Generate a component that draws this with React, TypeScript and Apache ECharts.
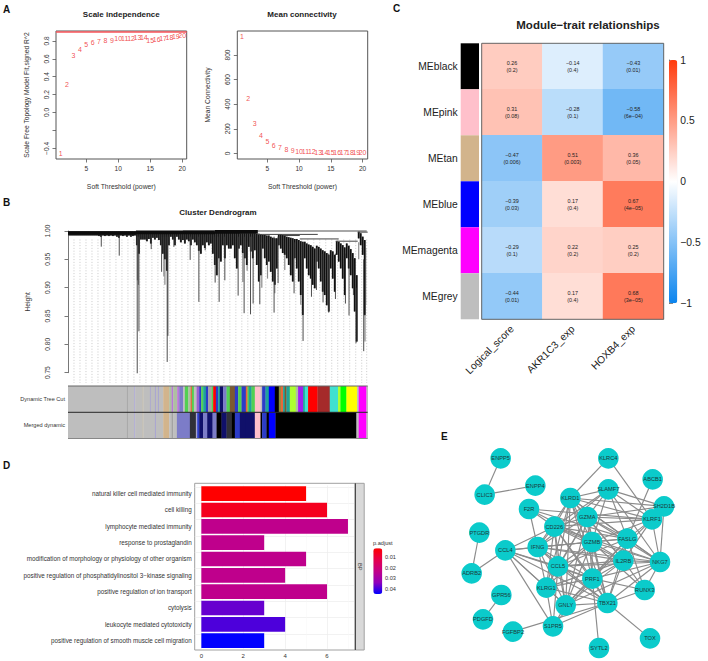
import React, { useEffect, useRef } from "react";
import * as echarts from "echarts";

const FONT = "Liberation Sans";
const INK = "#333333";

// ---------- A: soft threshold ----------
const powers = [1,2,3,4,5,6,7,8,9,10,11,12,13,14,15,16,17,18,19,20];
const scaleFit = [-0.453,0.31,0.636,0.70,0.755,0.78,0.79,0.80,0.805,0.83,0.83,0.83,0.835,0.84,0.81,0.82,0.825,0.835,0.85,0.86];
const meanConn = [953,443,243,146,95,62,46,30,22,16,13,11,8,6,5,5,4,4,3,3];
const fitCut = 0.9;

// ---------- B: dendrogram ----------
const guideSteps = [6,12,18,24,30,36,42,48,54,60,66,72,78,84,90,96,102,108,114,120,126,132,138,144,150,156,162,168,174,180,186,192,198,204,210,216,222,228,234,240,246,252,258,264,270,276,282,288,294,299];
const massRows = [
[1,.9995,.992],[3,.9995,.992],[5,.9995,.992],[7,.9995,.992],[9,.9995,.992],[11,.9995,.992],[13,.9995,.992],[15,.9995,.992],[17,.9995,.992],[19,.9995,.992],[21,.9995,.992],[23,.9995,.992],[25,.9995,.992],[27,.9995,.992],[29,.9995,.992],[31,.9995,.991],[33,.9995,.99],[35,.9995,.992],[37,.9995,.991],[39,.9995,.992],[41,.9995,.991],[43,.9995,.992],[45,.9995,.991],[47,.9995,.992],[49,.9995,.99],[51,.9995,.988],[53,.9995,.992],[55,.9995,.991],[57,.9995,.992],[59,.9995,.99],[61,.9995,.992],[63,.9995,.99],[65,.9995,.991],[67,.9995,.992],
[69,.999,.975],[71,.999,.96],[73,.999,.985],[75,.999,.985],[77,.999,.985],[79,.999,.982],[81,.999,.986],[83,.999,.978],[85,.999,.988],[87,.999,.985],[89,.999,.988],[91,.999,.984],[93,.999,.975],[95,.999,.96],[97,.999,.95],[99,.999,.93],[101,.999,.975],[103,.999,.99],[105,.999,.985],[107,.999,.975],[109,.999,.99],[111,.999,.985],[113,.999,.98],[115,.999,.984],[117,.999,.978],[119,.999,.985],[121,.999,.982],[123,.999,.975],[125,.999,.985],[127,.999,.98],[129,.999,.975],[131,.999,.965],[133,.999,.96],[135,.999,.975],[137,.999,.97],[139,.999,.98],[141,.999,.975],[143,.999,.978],[145,.999,.96],
[147,.999,.94],[149,.999,.922],[151,.999,.952],[153,.999,.946],[155,.998,.975],[157,.998,.952],[159,.998,.975],[161,.998,.969],[163,.998,.969],[165,.998,.975],[167,.9965,.952],[169,.9965,.934],[171,.9965,.969],[173,.996,.975],[175,.996,.961],[177,.996,.952],[179,.996,.94],[181,.996,.972],[183,.996,.964],[185,.996,.952],[187,.996,.966],[189,.995,.94],[191,.995,.911],[193,.994,.922],[195,.993,.969],[197,.993,.952],[199,.992,.94],[201,.992,.946],[203,.99,.928],[205,.988,.911],[207,.987,.905],[209,.987,.934],[211,.994,.975],[213,.994,.969],[215,.993,.961],[217,.993,.958],[219,.99,.952],[221,.989,.94],[223,.988,.922],[225,.987,.911],[227,.986,.952],[229,.986,.934],[231,.984,.911],[233,.982,.887],[235,.981,.852],[237,.981,.952],[239,.978,.934],[241,.976,.922],[243,.975,.916],[245,.972,.905],[247,.969,.899],[249,.974,.946],[251,.972,.934],[253,.969,.911],[255,.966,.893],[257,.964,.887],[259,.961,.869],[261,.958,.858],[263,.966,.934],[265,.964,.916],[267,.958,.893],[269,.982,.958],[271,.981,.946],[273,.978,.934],[275,.975,.916],[277,.971,.887],[279,.978,.952],[281,.974,.934],[283,.968,.922],[285,.961,.899],[287,.952,.858],[289,.922,.805],[291,.999,.987],[293,.996,.975],[295,.99,.958],[297,.984,.852],
];
const darkSpikes = [
[33.3,.992,.9724],[51.3,.992,.9565],[69.3,.99,.749],[71,.99,.823],[83.3,.99,.968],[93.7,.99,.928],[99.3,.99,.769],[100,.99,.815],[106,.99,.972],[122.3,.99,.949],[131,.99,.875],[137.3,.99,.966],[147.3,.99,.909],[151.3,.99,.875],[157,.99,.913],[170.3,.99,.886],[176.3,.99,.855],[182.7,.99,.853],[185.3,.99,.872],[192,.99,.871],[206.3,.99,.856],[210.3,.99,.908],[226.3,.98,.89],[235.3,.98,.806],[243.7,.97,.884],[248.7,.97,.896],[255.3,.96,.874],[261,.96,.856],[267.7,.96,.88],[277.7,.96,.872],[281.3,.95,.851],[285.7,.95,.887],[288.3,.9,.802],[296,.95,.788],
];
const greySpikes = [
[69.5,.99,.913],[70.5,.99,.905],[97,.99,.905],[96,.99,.92],[149.7,.99,.922],[199.7,.98,.916],[217,.98,.931],[297.3,.95,.805],[298,.97,.87],[297,.96,.85],[179.3,.98,.93],[194,.98,.9],[175,.97,.91],[207,.96,.89],[233,.97,.87],[291,.98,.95],
];
const branchRows = [
[115,299,1.0,"grey"],[190,250,.994,"dark"],[232,271,.986,"dark"],[268,290,.982,"dark"],[215,232,.992,"dark"],[290,300,.998,"dark"],[0,68,.9965,"band"],[68,147,.9975,"band"],[147,190,.9985,"band"],
];
type Seg = [number, number, string];
const dynamicCut: Seg[] = [
[0,59,"grey"],[59,59.8,"dimgrey"],[59.8,66.3,"grey"],[66.3,67.2,"lilac"],[67.2,74.7,"grey"],[74.7,75.5,"sand"],[75.5,82,"grey"],[82,82.8,"lilac"],[82.8,87,"grey"],[87,88,"lilac"],[88,90,"grey"],[90,91,"lilac"],[91,95.3,"grey"],
[95.3,101.3,"tan"],[101.3,103.7,"sage"],[103.7,105.3,"orchid"],[105.3,109.3,"sage"],[109.3,111.3,"orchid"],[111.3,115.3,"slate"],[115.3,117,"grey"],[117,120.3,"lime"],[120.3,122.7,"sage"],[122.7,124,"orange"],[124,126,"lime"],[126,128.7,"grey"],[128.7,131.3,"violet"],[131.3,133.3,"royal"],[133.3,135.3,"lime"],[135.3,138,"teal"],[138,140.3,"royal"],[140.3,143.7,"dimgrey"],[143.7,145.3,"lime"],[145.3,148,"red"],[148,150.3,"royal"],[150.3,152,"teal"],[152,155.3,"navy"],[155.3,158.7,"slate"],[158.7,162,"lime"],[162,167,"sienna"],[167,170.3,"royal"],[170.3,173.7,"lime"],[173.7,178,"royal"],
[178,179.7,"orange"],[179.7,181,"lime"],[181,183.7,"teal"],[183.7,187,"lime"],[187,192.7,"pink"],[192.7,194.3,"grey"],[194.3,197.7,"royal"],[197.7,201,"teal"],[201,207,"blue"],[207,211,"black"],[211,213,"olive"],[213,215.3,"orange"],[215.3,217,"teal"],[217,218.7,"sienna"],[218.7,222,"teal"],[222,228,"yellowgreen"],[228,230.3,"sage"],[230.3,235.3,"purple"],[235.3,237,"teal"],[237,240.3,"turquoise"],[240.3,249.7,"red"],[249.7,262,"brown"],[262,270.3,"turquoise"],[270.3,272.7,"yellowgreen"],[272.7,278.7,"green"],[278.7,289.3,"yellow"],[289.3,291,"grey"],[291,298.7,"magenta"],[298.7,300,"grey"],
];
const mergedDynamic: Seg[] = [
[0,59,"grey"],[59,59.8,"dimgrey"],[59.8,66.3,"grey"],[66.3,67.2,"lilac"],[67.2,74.7,"grey"],[74.7,75.5,"sand"],[75.5,87,"grey"],[87,88,"lilac"],[88,95.3,"grey"],
[95.3,101.3,"tan"],[101.3,103.7,"grey"],[103.7,105.3,"dimgrey"],[105.3,109,"grey"],[109,122,"slate"],[122,128,"charcoal"],[128,129.3,"lilac"],[129.3,131.3,"royal"],[131.3,135.3,"navy"],[135.3,139.3,"slate"],[139.3,144.7,"navy"],[144.7,148.7,"slate"],[148.7,153.7,"black"],[153.7,158.7,"navy"],[158.7,163.7,"charcoal"],[163.7,167,"black"],[167,172,"royal"],[172,178,"navy"],
[178,187,"navy"],[187,192.7,"pink"],[192.7,194.3,"black"],[194.3,198.7,"royal"],[198.7,201,"black"],[201,207.7,"blue"],[207.7,288.7,"black"],[288.7,291,"grey"],[291,298.7,"magenta"],[298.7,300,"grey"],
];
const modulePalette: Record<string, string> = {
  grey:"#bebebe", dimgrey:"#a3a3a3", lilac:"#a9a5d2", sand:"#c6bda5", tan:"#d2b48c", sage:"#aebfa0", orchid:"#b878d8", slate:"#7c7cc8", lime:"#52d052", orange:"#e8683a", violet:"#9a60d0", royal:"#2c3cc8", teal:"#1fa39a", red:"#ff0000", navy:"#10106a", sienna:"#7d5a30", pink:"#ffc0cb", blue:"#0000ff", black:"#000000", olive:"#8c8c3c", yellowgreen:"#adff2f", purple:"#a020f0", turquoise:"#40e0d0", brown:"#a52a2a", green:"#00ff00", yellow:"#ffff00", magenta:"#ff00ff", charcoal:"#303038",
};
const stripRows = ["Dynamic Tree Cut", "Merged dynamic"];

// ---------- C: module-trait ----------
const moduleNames = ["MEblack","MEpink","MEtan","MEblue","MEmagenta","MEgrey"];
const moduleSwatches = ["#000000","#ffc0cb","#d2b48c","#0000ff","#ff00ff","#bebebe"];
const traits = ["Logical_score","AKR1C3_exp","HOXB4_exp"];
const corrLogical = [0.26,0.31,-0.47,-0.39,-0.29,-0.44];
const corrAkr = [-0.14,-0.28,0.51,0.17,0.22,0.17];
const corrHoxb = [-0.43,-0.58,0.36,0.67,0.25,0.68];
const pLogical = ["0.2","0.08","0.006","0.03","0.1","0.01"];
const pAkr = ["0.4","0.1","0.003","0.4","0.2","0.4"];
const pHoxb = ["0.01","6e\u221204","0.05","4e\u221205","0.2","3e\u221205"];

// ---------- D: enrichment ----------
const goTerms = ["natural killer cell mediated immunity","cell killing","lymphocyte mediated immunity","response to prostaglandin","modification of morphology or physiology of other organism","positive regulation of phosphatidylinositol 3\u2212kinase signaling","positive regulation of ion transport","cytolysis","leukocyte mediated cytotoxicity","positive regulation of smooth muscle cell migration"];
const goCounts = [5,6,7,3,5,4,6,3,4,3];
const goPadj = [0.0018,0.006,0.024,0.024,0.024,0.024,0.024,0.037,0.039,0.0447];
const padjTicks = ["0.01","0.02","0.03","0.04"];

// ---------- E: network ----------
const geneNames = ["ENPP5","KLRC4","ABCB1","CLIC3","ENPP4","SLAMF7","KLRD1","SH2D1B","F2R","GZMA","KLRF1","CD226","PTGDR","FASLG","GZMB","IFNG","CCL4","IL2RB","NKG7","CCL5","ADRB2","PRF1","KLRG1","RUNX3","GPR56","GNLY","TBX21","PDGFD","S1PR5","FGFBP2","TOX","SYTL2"];
const geneX = [182,505,638,134,286,505,391,672,267,442,636,343,118,562,456,293,196,550,660,354,95,457,319,614,184,377,502,129,339,219,630,477];
const geneY = [115,115,178,224,197,208,234,259,267,291,298,320,338,356,366,381,391,422,426,439,460,476,503,510,525,556,549,598,619,635,655,684];
const geneEdges: [string,string][] = [
["ENPP5","CLIC3"],["CLIC3","ENPP4"],["PTGDR","ADRB2"],["ADRB2","CCL4"],["GPR56","PDGFD"],["KLRC4","KLRD1"],["KLRC4","KLRF1"],["ABCB1","FASLG"],["TBX21","TOX"],["TBX21","FGFBP2"],["PRF1","SYTL2"],
["CCL4","IFNG"],["CCL4","CD226"],["CCL4","KLRG1"],["CCL4","S1PR5"],["CCL4","CCL5"],["CCL4","GZMB"],["CCL4","PRF1"],["CCL4","GNLY"],["CCL4","TBX21"],
["F2R","CD226"],["F2R","IFNG"],["F2R","KLRF1"],["F2R","GZMB"],["F2R","FASLG"],
["SH2D1B","SLAMF7"],["SH2D1B","KLRD1"],["SH2D1B","KLRF1"],["SH2D1B","GZMA"],["SH2D1B","NKG7"],
["KLRF1","SLAMF7"],["KLRF1","KLRD1"],["KLRF1","GZMA"],["KLRF1","CD226"],["KLRF1","FASLG"],["KLRF1","GZMB"],["KLRF1","NKG7"],["KLRF1","PRF1"],["KLRF1","IL2RB"],
["SLAMF7","KLRD1"],["SLAMF7","GZMA"],["SLAMF7","CD226"],["SLAMF7","FASLG"],["SLAMF7","GZMB"],["SLAMF7","NKG7"],["SLAMF7","IFNG"],
["KLRD1","GZMA"],["KLRD1","CD226"],["KLRD1","GZMB"],["KLRD1","IFNG"],["KLRD1","CCL5"],["KLRD1","PRF1"],["KLRD1","FASLG"],["KLRD1","NKG7"],["KLRD1","IL2RB"],["KLRD1","TBX21"],["KLRD1","GNLY"],["KLRD1","KLRG1"],
["GZMA","CD226"],["GZMA","GZMB"],["GZMA","FASLG"],["GZMA","IFNG"],["GZMA","CCL5"],["GZMA","IL2RB"],["GZMA","NKG7"],["GZMA","PRF1"],["GZMA","TBX21"],["GZMA","GNLY"],["GZMA","KLRG1"],
["CD226","GZMB"],["CD226","IFNG"],["CD226","CCL5"],["CD226","FASLG"],["CD226","IL2RB"],["CD226","NKG7"],["CD226","PRF1"],["CD226","TBX21"],["CD226","GNLY"],["CD226","KLRG1"],
["GZMB","FASLG"],["GZMB","IFNG"],["GZMB","CCL5"],["GZMB","IL2RB"],["GZMB","NKG7"],["GZMB","PRF1"],["GZMB","TBX21"],["GZMB","GNLY"],["GZMB","RUNX3"],["GZMB","KLRG1"],
["FASLG","IFNG"],["FASLG","IL2RB"],["FASLG","NKG7"],["FASLG","PRF1"],["FASLG","TBX21"],["FASLG","RUNX3"],["FASLG","CCL5"],["FASLG","GNLY"],
["IFNG","CCL5"],["IFNG","IL2RB"],["IFNG","NKG7"],["IFNG","PRF1"],["IFNG","KLRG1"],["IFNG","TBX21"],["IFNG","GNLY"],
["IL2RB","NKG7"],["IL2RB","CCL5"],["IL2RB","PRF1"],["IL2RB","TBX21"],["IL2RB","RUNX3"],["IL2RB","GNLY"],["IL2RB","KLRG1"],
["NKG7","CCL5"],["NKG7","PRF1"],["NKG7","TBX21"],["NKG7","RUNX3"],["NKG7","GNLY"],
["CCL5","PRF1"],["CCL5","KLRG1"],["CCL5","GNLY"],["CCL5","TBX21"],["CCL5","S1PR5"],
["PRF1","KLRG1"],["PRF1","GNLY"],["PRF1","TBX21"],["PRF1","RUNX3"],["PRF1","S1PR5"],
["KLRG1","GNLY"],["KLRG1","S1PR5"],["KLRG1","TBX21"],["GNLY","TBX21"],["GNLY","S1PR5"],["RUNX3","TBX21"],["TBX21","S1PR5"],
];

const minusSign = (s: string | number) => String(s).replace("-", "\u2212");

const segRender = (stroke: string, lineWidth: number, dash?: number[]) => (_p: any, api: any) => {
  const a = api.coord([api.value(0), api.value(1)]);
  const b = api.coord([api.value(0), api.value(2)]);
  return { type: "line", shape: { x1: a[0], y1: a[1], x2: b[0], y2: b[1] }, style: { stroke, lineWidth, lineDash: dash, fill: null } };
};

function buildOption() {
  const tick = { lineStyle: { color: "#555", width: 0.8 }, length: 3.5 };
  const rLabelX = { fontSize: 6.6, color: INK, margin: 6 };
  const rLabelY = { fontSize: 6.6, color: INK, rotate: 90, margin: 6 };
  const hiddenAxis = (gridIndex: number, min: number, max: number, extra: any = {}) => ({ type: "value", gridIndex, min, max, show: false, ...extra });

  const grids = [
    { left: 56, top: 31, width: 130.7, height: 128, show: true, borderColor: "#555", borderWidth: 1, backgroundColor: "transparent" },
    { left: 237.3, top: 31, width: 130.4, height: 128, show: true, borderColor: "#555", borderWidth: 1, backgroundColor: "transparent" },
    { left: 68, top: 231, width: 299.7, height: 141.7 },
    { left: 68, top: 386, width: 299.7, height: 26.3 },
    { left: 68, top: 412.3, width: 299.7, height: 26.2 },
    { left: 460.7, top: 43.3, width: 18.3, height: 276 },
    { left: 481.7, top: 43.3, width: 182, height: 276 },
    { left: 669, top: 60, width: 8.3, height: 243.3 },
    { left: 194.7, top: 485.5, width: 160.6, height: 163.3 },
    { left: 440, top: 420, width: 268, height: 241 },
  ];

  const xAxis: any[] = [
    { type: "value", gridIndex: 0, min: 0.27, max: 20.7, axisLine: { show: false, onZero: false }, splitLine: { show: false }, axisTick: { ...tick, customValues: [5,10,15,20] }, axisLabel: { ...rLabelX, customValues: [5,10,15,20] }, name: "Soft Threshold (power)", nameLocation: "middle", nameGap: 24, nameTextStyle: { fontSize: 6.8, color: INK } },
    { type: "value", gridIndex: 1, min: 0.27, max: 20.8, axisLine: { show: false, onZero: false }, splitLine: { show: false }, axisTick: { ...tick, customValues: [5,10,15,20] }, axisLabel: { ...rLabelX, customValues: [5,10,15,20] }, name: "Soft Threshold (power)", nameLocation: "middle", nameGap: 24, nameTextStyle: { fontSize: 6.8, color: INK } },
    hiddenAxis(2, 0, 300),
    hiddenAxis(3, 0, 300),
    hiddenAxis(4, 0, 300),
    hiddenAxis(5, 0, 1),
    { type: "category", gridIndex: 6, data: traits, axisLine: { show: false }, axisTick: { show: false }, splitLine: { show: false }, axisLabel: { fontSize: 10.3, color: "#222", rotate: 45, margin: 8, interval: 0 } },
    hiddenAxis(7, 0, 1),
    { type: "value", gridIndex: 8, min: -0.317, max: 7.35, offset: 1.2, axisLine: { show: false, onZero: false }, splitLine: { show: false }, axisTick: { lineStyle: { color: "#555", width: 0.7 }, length: 2, customValues: [0,2,4,6] }, axisLabel: { fontSize: 6, color: INK, margin: 3, customValues: [0,2,4,6] } },
    hiddenAxis(9, 0, 804),
  ];
  const yAxis: any[] = [
    { type: "value", gridIndex: 0, min: -0.519, max: 0.911, axisLine: { show: false, onZero: false }, splitLine: { show: false }, axisTick: { ...tick, customValues: [-0.4,-0.2,0,0.2,0.4,0.6,0.8] }, axisLabel: { ...rLabelY, customValues: [-0.4,0,0.2,0.4,0.6,0.8], formatter: (v: number) => minusSign(v.toFixed(1)) }, name: "Scale Free Topology Model Fit,signed R^2", nameLocation: "middle", nameGap: 26, nameTextStyle: { fontSize: 6.7, color: INK } },
    { type: "value", gridIndex: 1, min: -46, max: 995, axisLine: { show: false, onZero: false }, splitLine: { show: false }, axisTick: { ...tick, customValues: [0,200,400,600,800] }, axisLabel: { ...rLabelY, customValues: [0,200,400,600,800] }, name: "Mean Connectivity", nameLocation: "middle", nameGap: 26, nameTextStyle: { fontSize: 6.7, color: INK } },
    { type: "value", gridIndex: 2, min: 0.75, max: 1, interval: 0.05, offset: 11.3, axisLine: { show: true, lineStyle: { color: "#555", width: 0.8 } }, splitLine: { show: false }, axisTick: tick, axisLabel: { ...rLabelY, formatter: (v: number) => v.toFixed(2) }, name: "Height", nameLocation: "middle", nameGap: 26, nameTextStyle: { fontSize: 6.7, color: INK } },
    { type: "category", gridIndex: 3, data: [stripRows[0]], axisLine: { show: false }, axisTick: { show: false }, axisLabel: { fontSize: 5.6, color: INK, margin: 3 } },
    { type: "category", gridIndex: 4, data: [stripRows[1]], axisLine: { show: false }, axisTick: { show: false }, axisLabel: { fontSize: 5.6, color: INK, margin: 3 } },
    { type: "category", gridIndex: 5, data: moduleNames, inverse: true, axisLine: { show: false }, axisTick: { show: false }, axisLabel: { fontSize: 10.3, color: "#222", margin: 3, interval: 0 } },
    { type: "category", gridIndex: 6, data: moduleNames, inverse: true, show: false },
    { type: "value", gridIndex: 7, min: -1, max: 1, interval: 0.5, position: "right", axisLine: { show: true, lineStyle: { color: "#666", width: 0.8 } }, axisTick: { length: 4, lineStyle: { color: "#666", width: 0.8 } }, splitLine: { show: false }, axisLabel: { fontSize: 10.3, color: "#222", margin: 3, formatter: (v: number) => minusSign(v) } },
    { type: "category", gridIndex: 8, data: goTerms, inverse: true, axisLine: { show: false }, axisTick: { lineStyle: { color: "#555", width: 0.7 }, length: 2, alignWithLabel: true }, axisLabel: { fontSize: 6.3, color: INK, margin: 3, interval: 0 } },
    hiddenAxis(9, 0, 723, { inverse: true }),
  ];

  const redLabel = { show: true, position: "inside", fontSize: 7, color: "#ee1c25", formatter: (p: any) => String(p.value[0]) };
  const heatData: any[] = [];
  [corrLogical, corrAkr, corrHoxb].forEach((col, x) => col.forEach((v, y) => heatData.push([x, y, v, [pLogical, pAkr, pHoxb][x][y]])));
  const stripSeries = (rows: Seg[], idx: number) => ({
    type: "custom", xAxisIndex: idx, yAxisIndex: idx, data: rows.map((r) => [r[0], r[1], 0]),
    renderItem: (params: any, api: any) => {
      const a = api.coord([api.value(0), 0]);
      const b = api.coord([api.value(1), 0]);
      const h = api.size([0, 1])[1];
      return { type: "rect", shape: { x: a[0], y: a[1] - h / 2, width: b[0] - a[0] + 0.3, height: h }, style: { fill: modulePalette[rows[params.dataIndex][2]] } };
    },
  });
  const branchStyle: Record<string, any> = { grey: { stroke: "#8a8a8a", lineWidth: 1.3 }, dark: { stroke: "#444", lineWidth: 1 }, band: { stroke: "#0c0c0c", lineWidth: 3.6 } };

  const series: any[] = [
    { id: "fit", type: "scatter", xAxisIndex: 0, yAxisIndex: 0, symbolSize: 1, itemStyle: { color: "transparent" }, data: powers.map((p, i) => [p, scaleFit[i]]), label: redLabel,
      markLine: { silent: true, symbol: "none", label: { show: false }, lineStyle: { color: "#f8555a", width: 1.5, type: "solid" }, data: [{ yAxis: fitCut }] } },
    { id: "conn", type: "scatter", xAxisIndex: 1, yAxisIndex: 1, symbolSize: 1, itemStyle: { color: "transparent" }, data: powers.map((p, i) => [p, meanConn[i]]), label: redLabel },
    { id: "guides", type: "custom", xAxisIndex: 2, yAxisIndex: 2, z: 1, data: guideSteps.map((u) => [u, 0.985, 0.7318]), renderItem: segRender("#c4c4c4", 0.9, [1, 1.8]) },
    { id: "massUnder", type: "custom", xAxisIndex: 2, yAxisIndex: 2, z: 2, data: massRows, renderItem: segRender("#6e6e6e", 2.05) },
    { id: "greySpikes", type: "custom", xAxisIndex: 2, yAxisIndex: 2, z: 2, data: greySpikes, renderItem: segRender("#8c8c8c", 1.2) },
    { id: "mass", type: "custom", xAxisIndex: 2, yAxisIndex: 2, z: 3, data: massRows, renderItem: segRender("#101010", 1.5) },
    { id: "darkSpikes", type: "custom", xAxisIndex: 2, yAxisIndex: 2, z: 4, data: darkSpikes, renderItem: segRender("#3a3a3a", 0.9) },
    { id: "branches", type: "custom", xAxisIndex: 2, yAxisIndex: 2, z: 5, data: branchRows.map((r) => [r[0], r[1], r[2]]),
      renderItem: (params: any, api: any) => {
        const a = api.coord([api.value(0), api.value(2)]);
        const b = api.coord([api.value(1), api.value(2)]);
        return { type: "line", shape: { x1: a[0], y1: a[1], x2: b[0], y2: b[1] }, style: branchStyle[branchRows[params.dataIndex][3] as string] };
      } },
    { id: "cut", ...stripSeries(dynamicCut, 3) },
    { id: "merged", ...stripSeries(mergedDynamic, 4) },
    { id: "swatches", type: "bar", xAxisIndex: 5, yAxisIndex: 5, barWidth: "100%", data: moduleNames.map((_, i) => ({ value: 1, itemStyle: { color: moduleSwatches[i] } })) },
    { id: "heat", type: "heatmap", xAxisIndex: 6, yAxisIndex: 6, data: heatData,
      label: { show: true, fontSize: 5.4, lineHeight: 6.6, color: "#222", formatter: (p: any) => `${minusSign(p.value[2].toFixed(2))}\n(${p.value[3]})` } },
    { id: "goBack", type: "bar", xAxisIndex: 8, yAxisIndex: 8, z: 1, data: [],
      markLine: { silent: true, symbol: "none", z: 1, label: { show: false }, lineStyle: { color: "#ececec", width: 0.7, type: "solid" },
        data: [...goTerms.map((t) => ({ yAxis: t })), ...[0,2,4,6].map((v) => ({ xAxis: v })), ...[1,3,5,7].map((v) => ({ xAxis: v, lineStyle: { color: "#f6f6f6", width: 0.5 } }))] } },
    { id: "go", type: "bar", xAxisIndex: 8, yAxisIndex: 8, z: 3, barGap: "-100%", barWidth: "90%", data: goCounts.map((v, i) => [v, goTerms[i], goPadj[i]]), encode: { x: 0, y: 1 } },
    { id: "net", type: "graph", coordinateSystem: "cartesian2d", xAxisIndex: 9, yAxisIndex: 9, layout: "none", symbol: "circle", symbolSize: 20.6, silent: true,
      itemStyle: { color: "#0bcbcb" }, label: { show: true, position: "inside", fontSize: 5.7, color: "#1d3a3a" }, lineStyle: { color: "#8b8b8b", width: 1.15, opacity: 1 },
      data: geneNames.map((name, i) => ({ name, value: [geneX[i], geneY[i]] })), links: geneEdges.map(([source, target]) => ({ source, target })) },
  ];

  const letter = (text: string, x: number, y: number) => ({ type: "text", x, y, z: 20, style: { text, font: `bold 10px "${FONT}"`, fill: "#111", align: "left", verticalAlign: "middle" } });
  const small = (text: string, x: number, y: number, extra: any = {}) => ({ type: "text", x, y, z: 20, style: { text, font: `5.6px "${FONT}"`, fill: INK, align: "left", verticalAlign: "middle", ...extra } });
  const rule = (x1: number, y1: number, x2: number, y2: number, stroke: string) => ({ type: "line", z: 20, shape: { x1, y1, x2, y2 }, style: { stroke, lineWidth: 1 } });

  const graphic: any[] = [
    letter("A", 3, 9), letter("B", 3, 202), letter("C", 393, 8), letter("D", 3, 465), letter("E", 441, 436),
    rule(68, 386, 367.7, 386, "#666"), rule(68, 412.3, 367.7, 412.3, "#222"), rule(68, 438.5, 367.7, 438.5, "#888"),
    { type: "rect", z: 20, shape: { x: 481.7, y: 43.3, width: 182, height: 276 }, style: { fill: "none", stroke: "#666", lineWidth: 1 } },
    { type: "rect", z: 0, shape: { x: 194.7, y: 483.3, width: 160.6, height: 166.7 }, style: { fill: "none", stroke: "#a0a0a0", lineWidth: 1 } },
    { type: "rect", z: 20, shape: { x: 355.3, y: 483.3, width: 8.9, height: 166.7 }, style: { fill: "#d9d9d9", stroke: "#a0a0a0", lineWidth: 1 } },
    rule(355.3, 483.3, 355.3, 650, "#333"),
    { type: "text", x: 360, y: 566.7, z: 21, rotation: -Math.PI / 2, style: { text: "BP", font: `5.6px "${FONT}"`, fill: INK, align: "center", verticalAlign: "middle" } },
    small("p.adjust", 373, 543),
    ...padjTicks.map((t, i) => small(t, 385, [557, 567.7, 578.3, 589][i])),
  ];

  return {
    animation: false,
    backgroundColor: "#ffffff",
    textStyle: { fontFamily: FONT },
    title: [
      { text: "Scale independence", left: 121.3, top: 10, padding: 0, textAlign: "center", textStyle: { fontSize: 8, fontWeight: "bold", color: "#222" } },
      { text: "Mean connectivity", left: 302, top: 10, padding: 0, textAlign: "center", textStyle: { fontSize: 8, fontWeight: "bold", color: "#222" } },
      { text: "Cluster Dendrogram", left: 218, top: 208.5, padding: 0, textAlign: "center", textStyle: { fontSize: 8, fontWeight: "bold", color: "#222" } },
      { text: "Module\u2212trait relationships", left: 588, top: 19, padding: 0, textAlign: "center", textStyle: { fontSize: 11.5, fontWeight: "bold", color: "#222" } },
    ],
    grid: grids,
    xAxis,
    yAxis,
    visualMap: [
      { type: "continuous", seriesIndex: 11, dimension: 2, min: -1, max: 1, left: 669, top: 60, itemWidth: 8.3, itemHeight: 243.3, padding: 0, text: null, calculable: false, inRange: { color: ["#0a84ee", "#ffffff", "#ff3a0c"] } },
      { type: "continuous", seriesIndex: 13, dimension: 2, min: 0.0018, max: 0.0447, left: 373.3, top: 548.3, itemWidth: 9, itemHeight: 45.7, padding: 0, text: null, inverse: true, calculable: false, inRange: { color: ["#ff0000", "#e6004c", "#c20088", "#9000bc", "#0000ff"] } },
    ],
    graphic,
    series,
  };
}

export default function App() {
  const ref = useRef<HTMLDivElement>(null);
  useEffect(() => {
    const chart = echarts.init(ref.current!, undefined, { renderer: "svg" });
    chart.setOption(buildOption() as any);
    return () => chart.dispose();
  }, []);
  return <div ref={ref} style={{ position: "absolute", left: 0, top: 0, width: 708, height: 661 }} />;
}
